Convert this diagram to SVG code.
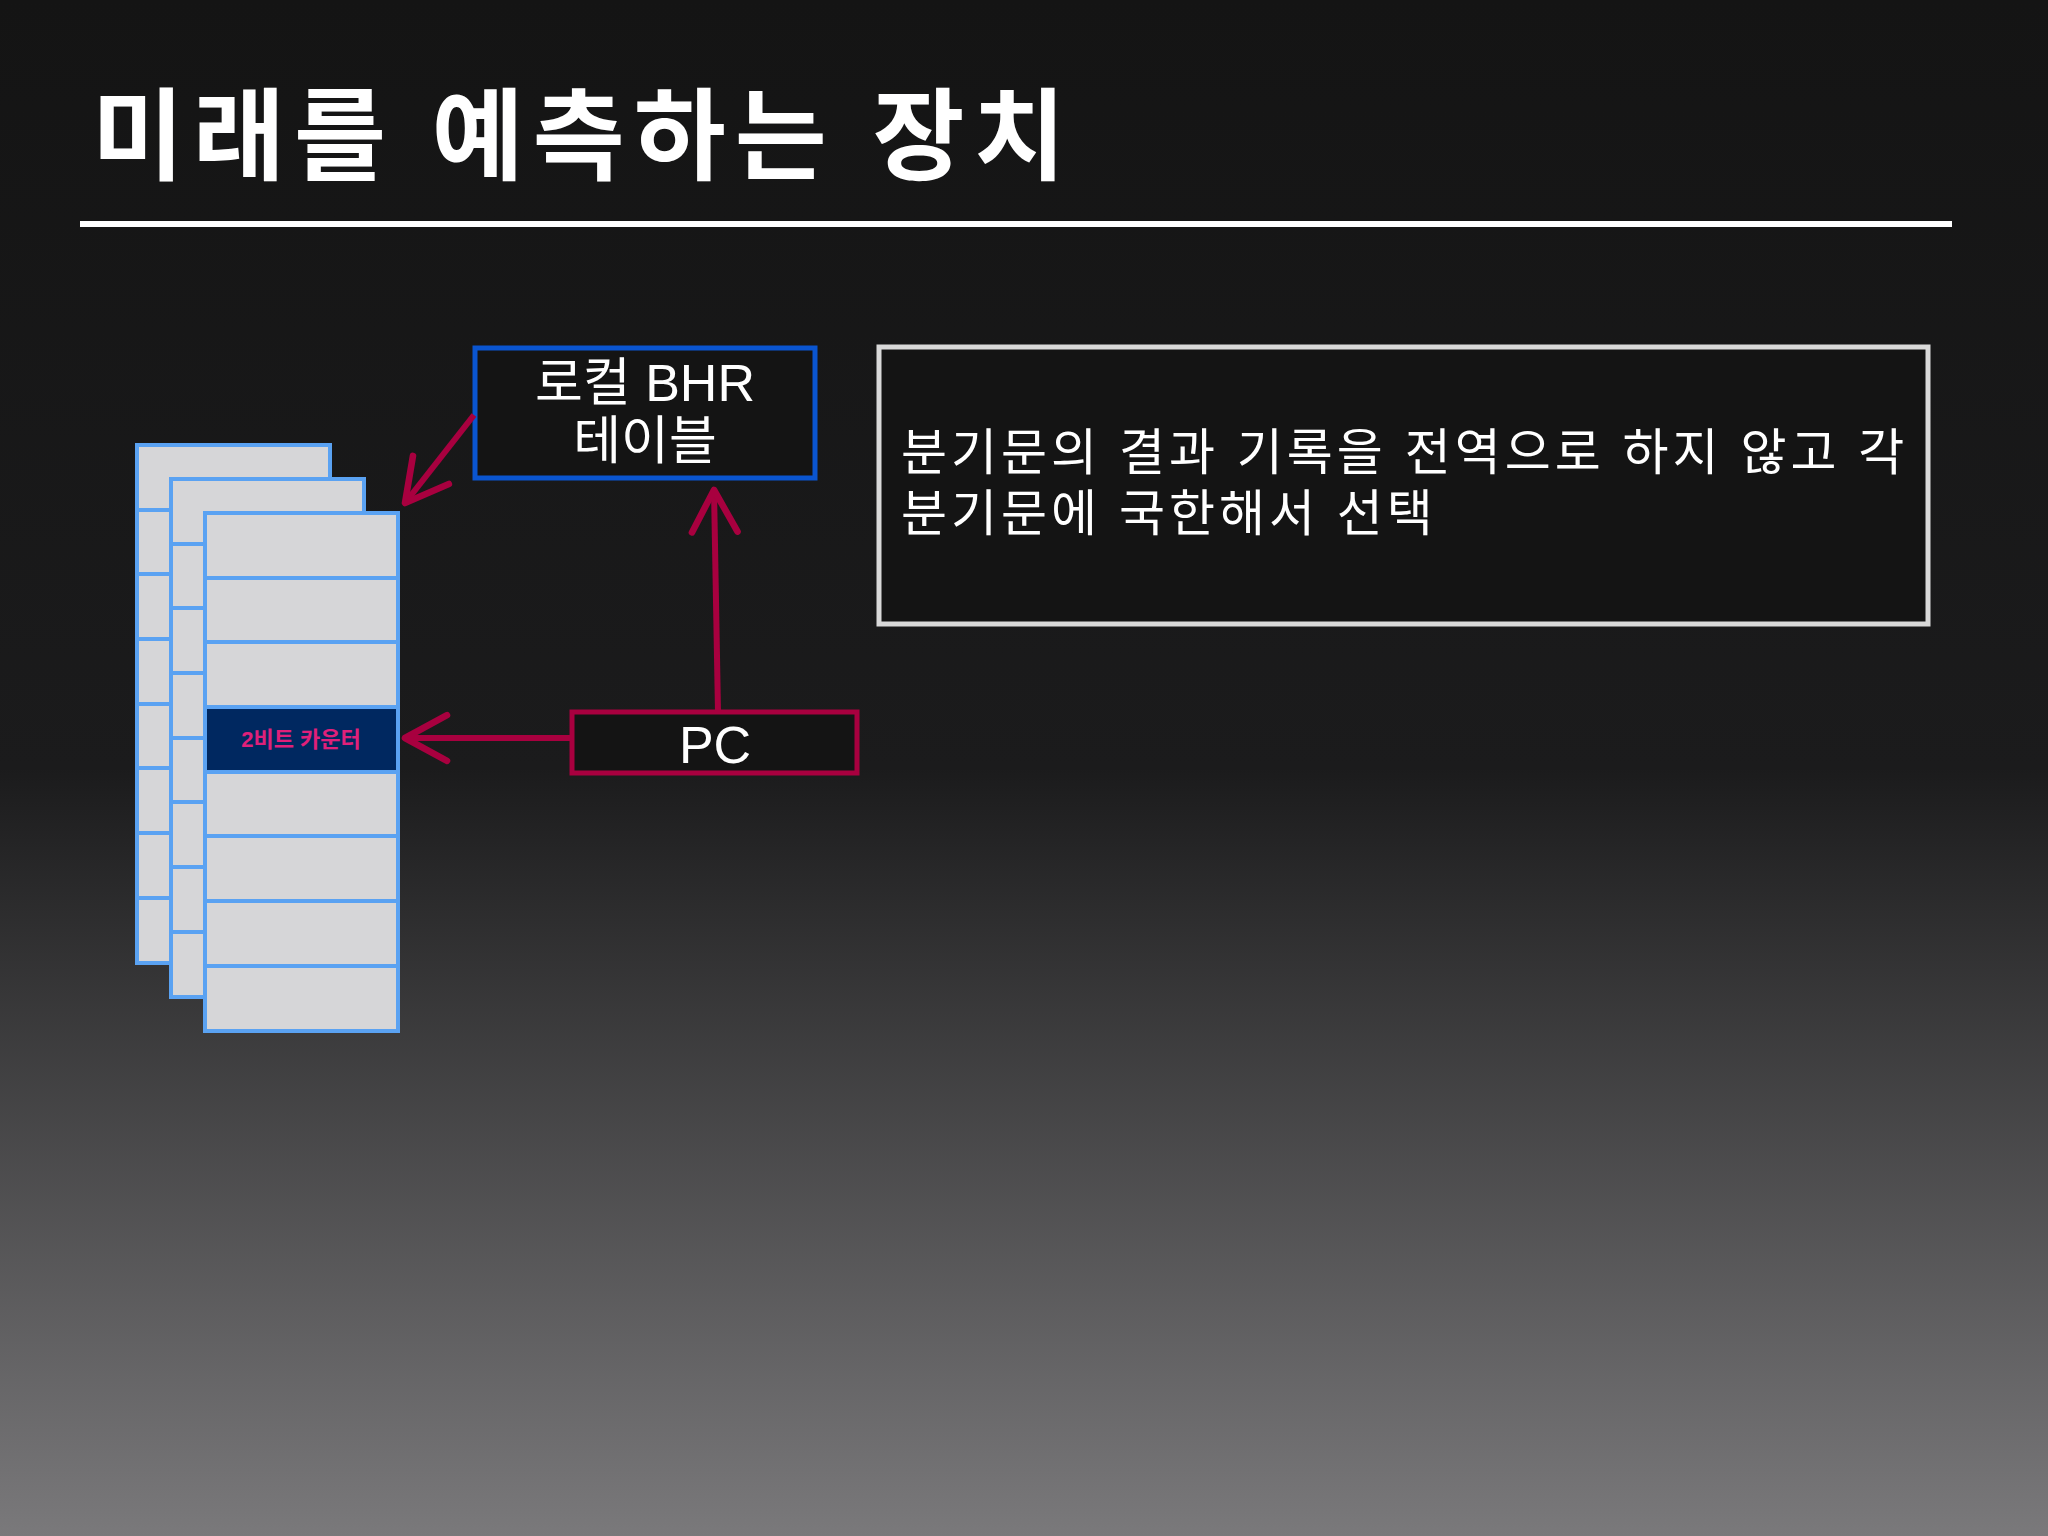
<svg xmlns="http://www.w3.org/2000/svg" width="2048" height="1536" viewBox="0 0 2048 1536">
<defs>
<linearGradient id="bg" x1="0" y1="0" x2="0" y2="1">
<stop offset="0" stop-color="#141414"/><stop offset="0.5" stop-color="#1b1b1c"/><stop offset="1" stop-color="#7a797b"/>
</linearGradient>
<marker id="ah" markerWidth="10" markerHeight="10" refX="8" refY="5" orient="auto" markerUnits="strokeWidth">
<path d="M1,1.2 L8,5 L1,8.8" fill="none" stroke="#a8003f" stroke-width="1.1" stroke-linecap="round" stroke-linejoin="round"/>
</marker>
</defs>
<style>
.row{fill:#d6d6d8;stroke:#5aa2f2;stroke-width:4}
.hl{fill:#002860;stroke:#5aa2f2;stroke-width:4}
.t{font-family:"Liberation Sans","Noto Sans CJK KR",sans-serif;fill:#fff}
.con{stroke:#a8003f;stroke-width:6;fill:none;marker-end:url(#ah)}
</style>
<rect width="2048" height="1536" fill="url(#bg)"/>
<text class="t" x="92" y="172" font-size="100" font-weight="bold" letter-spacing="9">미래를 예측하는 장치</text>
<rect x="80" y="221" width="1872" height="6" fill="#fff"/>
<g id="stack-back">
<rect class="row" x="137" y="445" width="193" height="65"/><rect class="row" x="137" y="510" width="193" height="64"/><rect class="row" x="137" y="574" width="193" height="65"/><rect class="row" x="137" y="639" width="193" height="65"/><rect class="row" x="137" y="704" width="193" height="64"/><rect class="row" x="137" y="768" width="193" height="65"/><rect class="row" x="137" y="833" width="193" height="65"/><rect class="row" x="137" y="898" width="193" height="65"/>
</g>
<g id="stack-mid">
<rect class="row" x="171" y="479" width="193" height="65"/><rect class="row" x="171" y="544" width="193" height="64"/><rect class="row" x="171" y="608" width="193" height="65"/><rect class="row" x="171" y="673" width="193" height="65"/><rect class="row" x="171" y="738" width="193" height="64"/><rect class="row" x="171" y="802" width="193" height="65"/><rect class="row" x="171" y="867" width="193" height="65"/><rect class="row" x="171" y="932" width="193" height="65"/>
</g>
<g id="stack-front">
<rect class="row" x="205" y="513" width="193" height="65"/><rect class="row" x="205" y="578" width="193" height="64"/><rect class="row" x="205" y="642" width="193" height="65"/><rect class="hl" x="205" y="707" width="193" height="65"/><rect class="row" x="205" y="772" width="193" height="64"/><rect class="row" x="205" y="836" width="193" height="65"/><rect class="row" x="205" y="901" width="193" height="65"/><rect class="row" x="205" y="966" width="193" height="65"/>
<text x="301" y="747" font-size="22" font-weight="bold" text-anchor="middle" fill="#e0207a" font-family="Liberation Sans,Noto Sans CJK KR,sans-serif">2비트 카운터</text>
</g>
<g id="bhr">
<rect x="475" y="348" width="340" height="130" fill="#141414" stroke="#0a55d0" stroke-width="5"/>
<text class="t" x="645" y="401" font-size="52" text-anchor="middle">로컬 BHR</text>
<text class="t" x="645" y="459" font-size="52" text-anchor="middle">테이블</text>
</g>
<g id="pc">
<rect x="572" y="712" width="285" height="61" fill="#141414" stroke="#a8003f" stroke-width="5"/>
<text class="t" x="715" y="763" font-size="52" text-anchor="middle">PC</text>
</g>
<g id="info">
<rect x="879" y="347" width="1049" height="277" fill="#141414" stroke="#d9d9d9" stroke-width="5"/>
<text class="t" x="901" y="470" font-size="50" letter-spacing="4">분기문의 결과 기록을 전역으로 하지 않고 각</text>
<text class="t" x="901" y="531" font-size="50" letter-spacing="4">분기문에 국한해서 선택</text>
</g>
<g id="connectors">
<line class="con" x1="474" y1="415" x2="405" y2="503"/>
<line class="con" x1="572" y1="738" x2="405" y2="738"/>
<line class="con" x1="718" y1="712" x2="714" y2="490"/>
</g>
</svg>
